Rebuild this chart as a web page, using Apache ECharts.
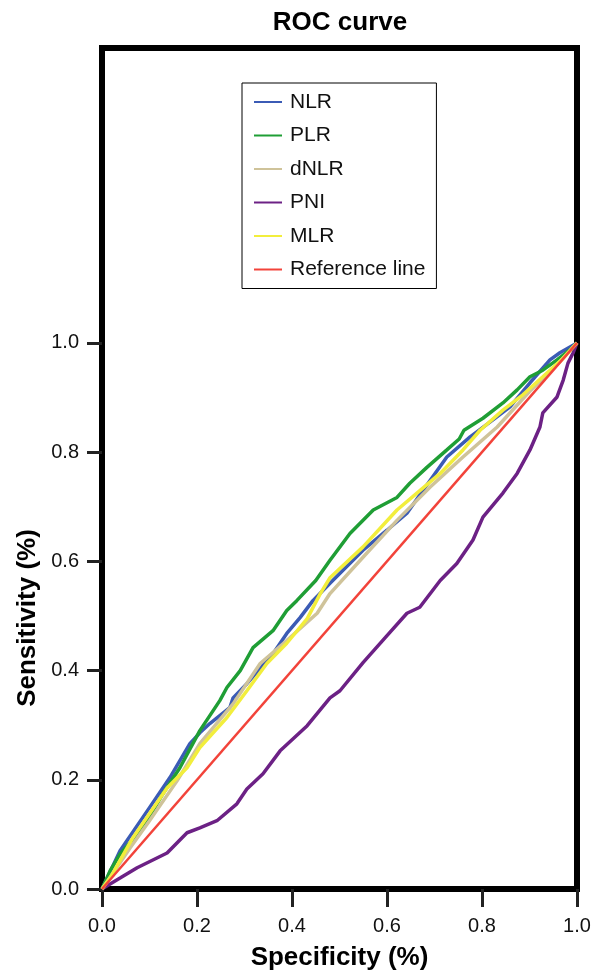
<!DOCTYPE html>
<html>
<head>
<meta charset="utf-8">
<script src="https://cdn.jsdelivr.net/npm/echarts@6/dist/echarts.min.js"></script>
<style>
  html, body { margin: 0; padding: 0; background: #fff; }
  #chart { width: 601px; height: 973px; }
</style>
</head>
<body>
<div id="chart"></div>
<script>
// ROC points, [1 - specificity, sensitivity]
var nlrPoints = [[0,0],[0.038,0.070],[0.10,0.149],[0.143,0.204],[0.185,0.266],[0.206,0.286],[0.227,0.303],[0.269,0.332],[0.276,0.350],[0.305,0.376],[0.360,0.431],[0.389,0.468],[0.417,0.497],[0.444,0.528],[0.48,0.560],[0.549,0.620],[0.6,0.657],[0.642,0.688],[0.676,0.730],[0.726,0.791],[0.775,0.828],[0.823,0.859],[0.859,0.883],[0.901,0.927],[0.943,0.969],[0.964,0.982],[1,1]];
var plrPoints = [[0,0],[0.017,0.033],[0.038,0.064],[0.086,0.112],[0.128,0.174],[0.164,0.222],[0.206,0.290],[0.248,0.345],[0.263,0.369],[0.291,0.400],[0.318,0.442],[0.360,0.473],[0.389,0.510],[0.41,0.528],[0.45,0.565],[0.48,0.602],[0.522,0.651],[0.571,0.694],[0.621,0.717],[0.648,0.743],[0.684,0.772],[0.726,0.804],[0.752,0.824],[0.762,0.840],[0.802,0.862],[0.844,0.890],[0.874,0.914],[0.901,0.938],[0.928,0.950],[0.958,0.969],[0.985,0.987],[1,1]];
var dnlrPoints = [[0,0],[0.02,0.025],[0.059,0.075],[0.10,0.125],[0.158,0.198],[0.206,0.266],[0.276,0.339],[0.333,0.413],[0.389,0.455],[0.453,0.505],[0.48,0.541],[0.549,0.607],[0.621,0.675],[0.691,0.736],[0.76,0.791],[0.832,0.846],[0.901,0.912],[0.958,0.960],[1,1]];
var pniPoints = [[0,0],[0.011,0.006],[0.038,0.020],[0.074,0.039],[0.137,0.066],[0.179,0.103],[0.206,0.112],[0.242,0.125],[0.284,0.156],[0.305,0.183],[0.339,0.211],[0.375,0.253],[0.432,0.299],[0.480,0.350],[0.501,0.363],[0.55,0.415],[0.600,0.464],[0.642,0.505],[0.669,0.516],[0.712,0.565],[0.747,0.596],[0.781,0.639],[0.802,0.681],[0.844,0.725],[0.874,0.761],[0.901,0.804],[0.922,0.846],[0.928,0.872],[0.958,0.901],[0.971,0.932],[0.981,0.963],[0.992,0.982],[1,1]];
var mlrPoints = [[0,0],[0.017,0.020],[0.065,0.094],[0.137,0.185],[0.179,0.222],[0.206,0.259],[0.263,0.314],[0.305,0.363],[0.347,0.413],[0.389,0.450],[0.432,0.495],[0.459,0.540],[0.48,0.570],[0.549,0.626],[0.621,0.694],[0.663,0.725],[0.712,0.761],[0.76,0.804],[0.796,0.840],[0.844,0.877],[0.886,0.905],[0.928,0.938],[0.971,0.972],[1,1]];
var refPoints = [[0,0],[1,1]];

var seriesNames = ['NLR', 'PLR', 'dNLR', 'PNI', 'MLR', 'Reference line'];
var tickValues = [0, 0.2, 0.4, 0.6, 0.8, 1.0];

var colors = ['#3b5bb5', '#1f9e35', '#cfc39a', '#6c2185', '#f2ee3c', '#f2433a'];
var allPoints = [nlrPoints, plrPoints, dnlrPoints, pniPoints, mlrPoints, refPoints];

var font = 'Liberation Sans, Arial, sans-serif';

var chart = echarts.init(document.getElementById('chart'));

chart.setOption({
  animation: false,
  backgroundColor: '#fff',
  color: colors,
  grid: {
    left: 102,
    right: 24,
    top: 48,
    bottom: 84,
    outerBoundsMode: 'none',
    show: true,
    borderColor: '#000',
    borderWidth: 6
  },
  legend: {
    data: seriesNames,
    orient: 'vertical',
    left: 242,
    top: 83,
    padding: [8, 11, 8, 12],
    itemGap: 11.5,
    itemWidth: 28,
    itemHeight: 2,
    icon: 'rect',
    borderColor: '#000',
    borderWidth: 1,
    backgroundColor: '#fff',
    textStyle: {
      fontFamily: font,
      fontSize: 21,
      lineHeight: 22,
      color: '#111',
      padding: [0, 0, 0, 3]
    }
  },
  graphic: [
    {
      type: 'text',
      x: 340,
      y: 23,
      style: {
        text: 'ROC curve',
        font: 'bold 26px ' + font,
        fill: '#000',
        align: 'center',
        verticalAlign: 'middle'
      }
    },
    {
      type: 'text',
      x: 28,
      y: 618,
      rotation: Math.PI / 2,
      style: {
        text: 'Sensitivity (%)',
        font: 'bold 26px ' + font,
        fill: '#000',
        align: 'center',
        verticalAlign: 'middle'
      }
    }
  ],
  xAxis: {
    type: 'value',
    min: 0,
    max: 1,
    interval: 0.2,
    name: 'Specificity (%)',
    nameLocation: 'middle',
    nameGap: 56,
    nameTextStyle: { fontFamily: font, fontSize: 26, fontWeight: 'bold', color: '#000' },
    axisLine: { show: true, lineStyle: { color: '#000', width: 6 } },
    axisTick: { show: true, length: 18, lineStyle: { color: '#222', width: 3 } },
    axisLabel: {
      margin: 27,
      fontFamily: font,
      fontSize: 20,
      color: '#111',
      formatter: function (v) { return v.toFixed(1); }
    },
    splitLine: { show: false }
  },
  yAxis: {
    type: 'value',
    min: 0,
    max: 1.54,
    axisLine: { show: true, lineStyle: { color: '#000', width: 6 } },
    axisTick: { show: true, length: 15, customValues: tickValues, lineStyle: { color: '#222', width: 3 } },
    axisLabel: {
      margin: 23,
      fontFamily: font,
      fontSize: 20,
      color: '#111',
      customValues: tickValues,
      formatter: function (v) { return v.toFixed(1); }
    },
    splitLine: { show: false }
  },
  series: seriesNames.map(function (name, i) {
    return {
      name: name,
      type: 'line',
      data: allPoints[i],
      showSymbol: false,
      symbol: 'none',
      lineStyle: { width: i === 5 ? 2.5 : 3.5, color: colors[i] },
      itemStyle: { color: colors[i] }
    };
  })
});
</script>
</body>
</html>
